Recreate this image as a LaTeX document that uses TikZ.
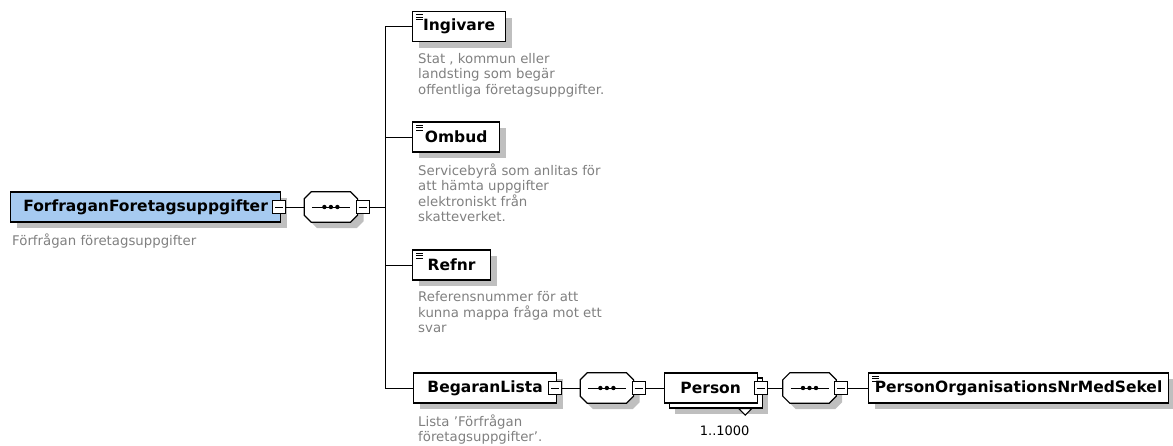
\documentclass[tikz,border=0pt]{standalone}
\usepackage{fontspec}
\setmainfont{DejaVu Sans}
\usetikzlibrary{positioning, shadows}
\definecolor{rootblue}{RGB}{166,202,240}
\definecolor{docgray}{RGB}{128,128,128}
\tikzset{
box/.style={draw, line width=1.2pt, fill=white, anchor=west, minimum height=30pt,
  inner xsep=6pt, font=\bfseries\fontsize{15.5}{18}\selectfont},
shade/.style={drop shadow={shadow xshift=6pt, shadow yshift=-6pt, fill=black!25, opacity=1}},
elem/.style={box, shade},
leaf/.style={elem, path picture={
  \foreach \dy in {3,5.5,8}
    \draw[line width=0.8pt] ([xshift=3.5pt, yshift=-\dy pt]path picture bounding box.north west) -- ++(7pt,0pt);}},
multi/.style={box, drop shadow={shadow xshift=11pt, shadow yshift=-11pt, fill=black!25, opacity=1},
  copy shadow={shadow xshift=5pt, shadow yshift=-5pt, draw, fill=white, line width=1.2pt}},
seq/.style={minimum width=53pt, minimum height=30pt, inner sep=0pt},
minus/.style={draw, line width=1pt, fill=white, minimum size=13pt, inner sep=0pt,
  path picture={\draw[line width=1pt] ([xshift=-4pt]path picture bounding box.center) -- ([xshift=4pt]path picture bounding box.center);}},
doc/.style={text=docgray, align=left, inner sep=0pt, font=\fontsize{13.3}{15.5}\selectfont},
conn/.style={line width=1pt}
}
% octagon of a sequence round node #1
\newcommand{\seqshape}[1]{%
  \draw[line width=1.2pt, fill=white, shade]
    ([xshift=7pt]#1.north west) -- ([xshift=-7pt]#1.north east) -- ([yshift=-7pt]#1.north east)
    -- ([yshift=7pt]#1.south east) -- ([xshift=-7pt]#1.south east) -- ([xshift=7pt]#1.south west)
    -- ([yshift=7pt]#1.south west) -- ([yshift=-7pt]#1.north west) -- cycle;
  \draw[line width=1pt] ([xshift=-19pt]#1.center) -- ([xshift=19pt]#1.center);
  \foreach \dx in {-6.5,0,6.5}
    \fill ([xshift=\dx pt]#1.center) circle[radius=2.2pt];}

\begin{document}
\begin{tikzpicture}[x=1pt, y=-1pt]
\useasboundingbox (0,0) rectangle (1173,445);
% root element
\node[elem, fill=rootblue, minimum width=270pt] (root) at (10,207) {ForfraganForetagsuppgifter};
\node[minus] (rootm) at ([xshift=-2pt]root.east) {};
\node[doc, below right=11pt and 2pt of root.south west] (rootd) {Förfrågan företagsuppgifter};
\node[seq, right=18pt of rootm] (seqa) {};
\seqshape{seqa}
\node[minus] (seqam) at ([xshift=5pt]seqa.east) {};
\coordinate (bus) at ([xshift=16pt]seqam.east);

% children
\node[leaf, minimum width=93pt] (ingivare) at (412,26.5) {Ingivare};
\node[doc, below right=11pt and 6pt of ingivare.south west] (ingd)
  {Stat , kommun eller\\landsting som begär\\offentliga företagsuppgifter.};
\node[leaf, minimum width=87pt] (ombud) at (412,137) {Ombud};
\node[doc, below right=11pt and 6pt of ombud.south west] (ombd)
  {Servicebyrå som anlitas för\\att hämta uppgifter\\elektroniskt från\\skatteverket.};
\node[leaf, minimum width=78pt] (refnr) at (412,265) {Refnr};
\node[doc, below right=11pt and 6pt of refnr.south west] (refd)
  {Referensnummer för att\\kunna mappa fråga mot ett\\svar};
\node[elem, minimum width=143pt] (begaran) at (413,388) {BegaranLista};
\node[minus] (begm) at ([xshift=-2pt]begaran.east) {};
\node[doc, below right=11pt and 5pt of begaran.south west] (begd)
  {Lista 'Förfrågan\\företagsuppgifter'.};

% list of persons
\node[seq, right=18pt of begm] (seqb) {};
\seqshape{seqb}
\node[minus] (seqbm) at ([xshift=5pt]seqb.east) {};
\node[multi, right=18pt of seqbm, minimum width=93pt] (person) {Person};
\node[minus] (personm) at ([xshift=3pt]person.east) {};
\draw[line width=1pt, fill=white] ([xshift=-19pt, yshift=-5pt]person.south east) -- ++(13pt,0pt) -- ++(-6.5pt,-6.5pt) -- cycle;
\node[font=\fontsize{13}{15}\selectfont] (card) at ([xshift=14pt, yshift=-27pt]person.south) {1..1000};
\node[seq, right=15pt of personm] (seqc) {};
\seqshape{seqc}
\node[minus] (seqcm) at ([xshift=5pt]seqc.east) {};
\node[leaf, right=20pt of seqcm, minimum width=299pt] (pnr) {PersonOrganisationsNrMedSekel};

\draw[conn]
(rootm) -- (seqa)
(seqam) -- (bus) |- (ingivare)
(seqam) -- (bus) |- (ombud)
(seqam) -- (bus) |- (refnr)
(seqam) -- (bus) |- (begaran)
(begm) -- (seqb)
(seqbm) -- (person)
(personm) -- (seqc)
(seqcm) -- (pnr)
;
\end{tikzpicture}
\end{document}
